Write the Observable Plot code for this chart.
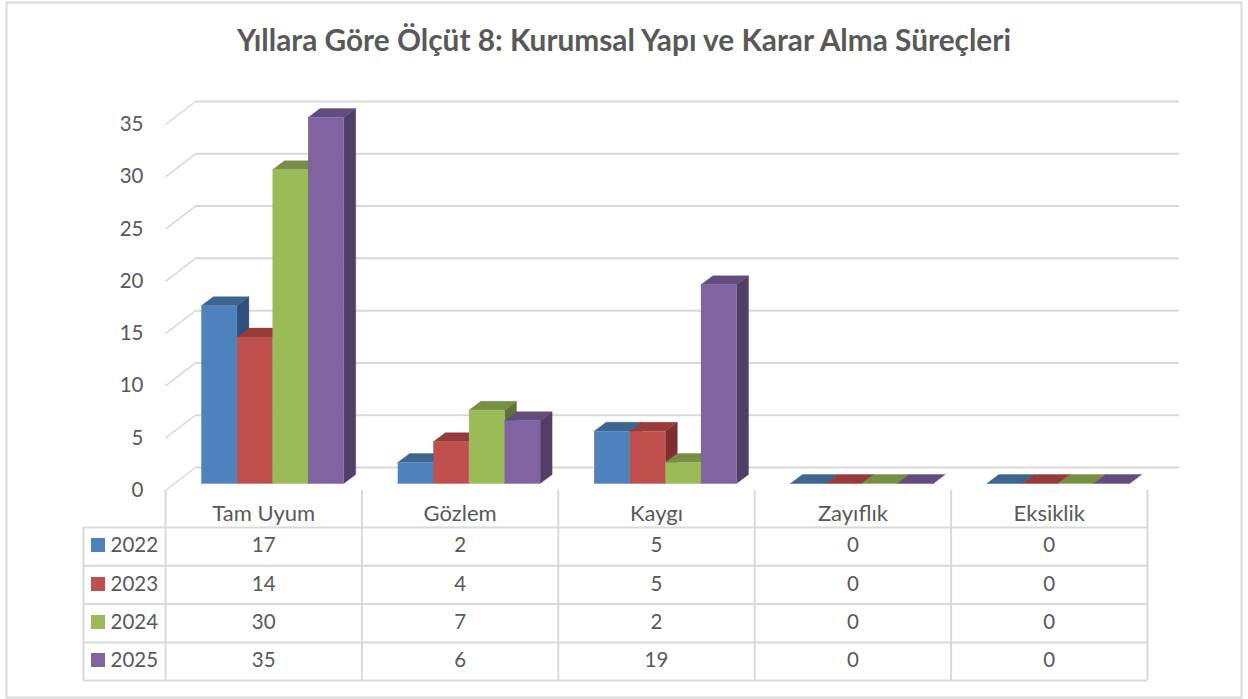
<!DOCTYPE html>
<html lang="tr">
<head>
<meta charset="utf-8">
<title>Yıllara Göre Ölçüt 8</title>
<script src="https://cdn.jsdelivr.net/npm/d3@7"></script>
<script src="https://cdn.jsdelivr.net/npm/@observablehq/plot@0.6"></script>
<style>
html,body{margin:0;padding:0;background:#fff;}
svg{display:block;}
</style>
</head>
<body>
<div id="chart"></div>
<script>
const titleText = "Yıllara Göre Ölçüt 8: Kurumsal Yapı ve Karar Alma Süreçleri";
const categories = ["Tam Uyum", "Gözlem", "Kaygı", "Zayıflık", "Eksiklik"];
const years = ["2022", "2023", "2024", "2025"];
const v2022 = [17, 2, 5, 0, 0];
const v2023 = [14, 4, 5, 0, 0];
const v2024 = [30, 7, 2, 0, 0];
const v2025 = [35, 6, 19, 0, 0];
const yTicks = [0, 5, 10, 15, 20, 25, 30, 35];
const frontColors = ["#4F81BD", "#C0504D", "#9BBB59", "#8064A2"];
const topColors = ["#3D6590", "#953C3A", "#778F44", "#624D7E"];
const sideColors = ["#30507A", "#7B302F", "#607335", "#523F68"];

const series = [v2022, v2023, v2024, v2025];
const grid = "#d9d9d9", ink = "#595959";

// pixel lengths expressed in scale units
const catW = 196.4, unit = 366 / 35;
const xv = p => (p - 165) / catW;
const yv = p => (483 - p) / unit;
const barStart = 35.8 / catW, barW = 35.6 / catW, depX = 12 / catW, depY = 9 / unit;

const polys = [];
categories.forEach((c, ci) => series.forEach((vals, si) => {
  const v = vals[ci];
  const a = ci + barStart + si * barW, b = a + barW;
  const add = (face, color, pts) => pts.forEach(([x, y]) => polys.push({id: `${ci}-${si}-${face}`, color, x, y}));
  add("side", sideColors[si], [[b, 0], [b + depX, depY], [b + depX, v + depY], [b, v]]);
  add("top", topColors[si], [[a, v], [a + depX, v + depY], [b + depX, v + depY], [b, v]]);
  add("front", frontColors[si], [[a, 0], [b, 0], [b, v], [a, v]]);
}));

const backDY = 16 / unit, frontDY = 7 / unit;
const rowCenters = [545, 584, 622, 660];
const tableLines = [527, 565.3, 603.6, 642, 680];
const tableLeft = xv(83);
const cells = [];
series.forEach((vals, si) => vals.forEach((v, ci) => cells.push({x: ci + 0.5, y: yv(rowCenters[si]), t: String(v)})));

const textBase = {fill: ink, stroke: null};

const chart = Plot.plot({
  width: 1248, height: 699,
  marginLeft: 0, marginRight: 0, marginTop: 0, marginBottom: 0,
  style: {background: "#fff", fontFamily: "Lato, 'Open Sans', sans-serif", overflow: "visible"},
  x: {type: "linear", domain: [0, 5], range: [165, 1147], axis: null},
  y: {type: "linear", domain: [0, 35], range: [483, 117], axis: null},
  color: {type: "identity"},
  marks: [
    Plot.frame({stroke: grid, strokeWidth: 2, insetLeft: 6, insetTop: 2, insetRight: 7, insetBottom: 2}),
    Plot.text([titleText], {x: xv(623.5), y: yv(41), text: d => d, fill: ink, fontSize: 29.8, fontWeight: 700}),
    // wall gridlines and floor diagonals
    Plot.ruleY(yTicks, {y: d => d + backDY, x1: xv(195), x2: xv(1179), stroke: grid, strokeWidth: 2}),
    Plot.link(yTicks, {x1: xv(165), y1: d => d - frontDY, x2: xv(195), y2: d => d + backDY, stroke: grid, strokeWidth: 1.5}),
    // value axis
    Plot.axisY({ticks: yTicks, tickSize: 0, tickPadding: 0, dx: 143, dy: 7, fontSize: 20.5, color: ink, label: null, tickFormat: d => String(d)}),
    // 3-D bars
    Plot.line(polys, {x: "x", y: "y", z: "id", fill: "color", stroke: "color", strokeWidth: 0.4}),
    // data table
    Plot.ruleX([0, 1, 2, 3, 4, 5], {x: d => d, y1: yv(490), y2: yv(680), stroke: grid, strokeWidth: 2}),
    Plot.ruleX([tableLeft], {x: d => d, y1: yv(527), y2: yv(680), stroke: grid, strokeWidth: 2}),
    Plot.ruleY(tableLines, {y: d => yv(d), x1: tableLeft, x2: 5, stroke: grid, strokeWidth: 2}),
    Plot.text(categories, {x: (d, i) => i + 0.5, y: yv(513), text: d => d, fontSize: 22, ...textBase}),
    Plot.text(cells, {x: "x", y: "y", text: "t", fontSize: 20.5, ...textBase}),
    Plot.rect(years, {x1: xv(91), x2: xv(105), y1: (d, i) => yv(rowCenters[i] - 7), y2: (d, i) => yv(rowCenters[i] + 7), fill: (d, i) => frontColors[i]}),
    Plot.text(years, {x: xv(110), y: (d, i) => yv(rowCenters[i]), text: d => d, textAnchor: "start", fontSize: 20.5, ...textBase})
  ]
});
document.getElementById("chart").append(chart);
</script>
</body>
</html>
